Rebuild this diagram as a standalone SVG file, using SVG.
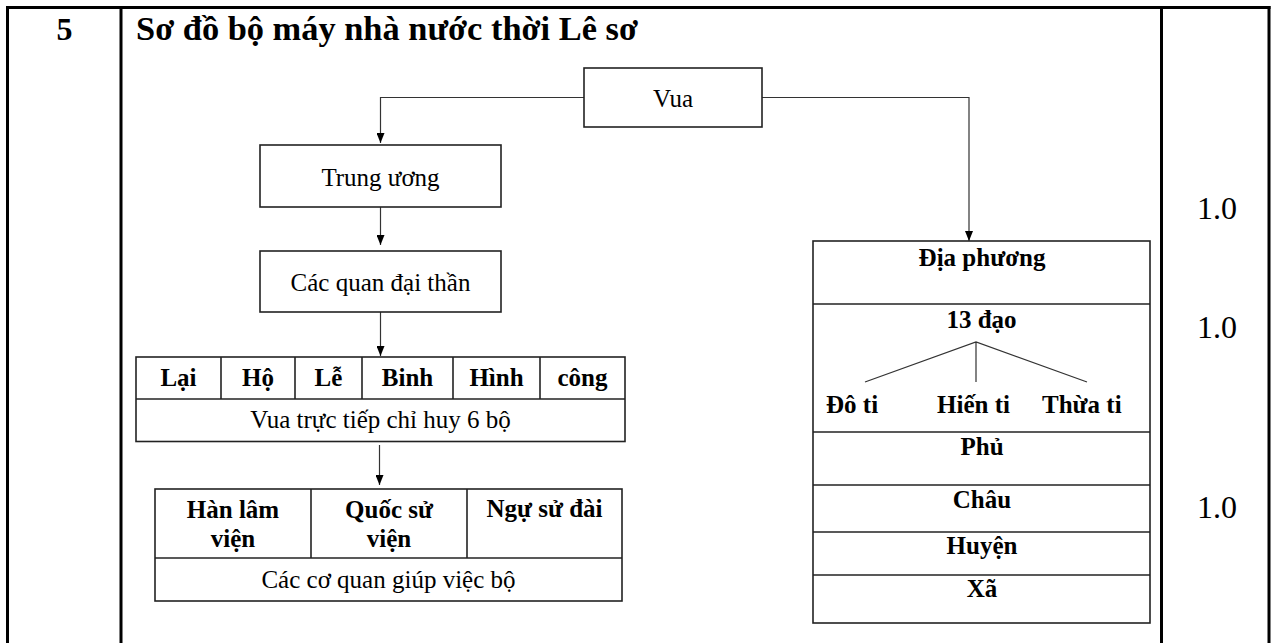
<svg xmlns="http://www.w3.org/2000/svg" width="1274" height="643" viewBox="0 0 1274 643">
<defs>
<style>
.frame{stroke:#000;stroke-width:3;fill:none}
.box{fill:#fff;stroke:#222;stroke-width:1.6}
.ln{stroke:#222;stroke-width:1.6;fill:none}
.conn{stroke:#333;stroke-width:1.2;fill:none}
.t{font-family:"Liberation Serif","Times New Roman","DejaVu Serif",serif;font-size:25px;fill:#000;text-anchor:middle}
.s{text-anchor:start}
.b{font-weight:bold}
.big{font-family:"Liberation Serif","Times New Roman","DejaVu Serif",serif;font-size:32px;fill:#000}
</style>
<marker id="arr" viewBox="0 0 10 8" refX="10" refY="4" markerWidth="10" markerHeight="8" markerUnits="userSpaceOnUse" orient="auto">
<path d="M0,0 L10,4 L0,8 Z" fill="#000"/>
</marker>
</defs>
<rect width="1274" height="643" fill="#fff"/>
<g id="frame">
<line class="frame" x1="6" y1="7.5" x2="1270.5" y2="7.5"/>
<line class="frame" x1="7.5" y1="6" x2="7.5" y2="643"/>
<line class="frame" x1="121" y1="6" x2="121" y2="643"/>
<line class="frame" x1="1161.5" y1="6" x2="1161.5" y2="643"/>
<line class="frame" x1="1269" y1="6" x2="1269" y2="643"/>
<text class="big b" x="64.5" y="40" text-anchor="middle" font-size="33">5</text>
<text class="big b" x="136" y="40" style="font-size:34.4px">Sơ đồ bộ máy nhà nước thời Lê sơ</text>
<text class="big" x="1197" y="219">1.0</text>
<text class="big" x="1197" y="338">1.0</text>
<text class="big" x="1197" y="518">1.0</text>
</g>
<g id="connectors">
<path class="conn" d="M584,97.5 H380.5 V143" marker-end="url(#arr)"/>
<path class="conn" d="M762,97.5 H969 V241" marker-end="url(#arr)"/>
<path class="conn" d="M380.5,207 V245" marker-end="url(#arr)"/>
<path class="conn" d="M380.5,312 V356" marker-end="url(#arr)"/>
<path class="conn" d="M379.5,445 V485" marker-end="url(#arr)"/>
</g>
<g id="vua">
<rect class="box" x="584" y="68" width="178" height="59"/>
<text class="t" x="673" y="107">Vua</text>
</g>
<g id="trung-uong">
<rect class="box" x="260" y="145" width="241" height="62"/>
<text class="t" x="380.5" y="186">Trung ương</text>
</g>
<g id="cac-quan">
<rect class="box" x="260" y="251" width="241" height="61"/>
<text class="t" x="380.5" y="291">Các quan đại thần</text>
</g>
<g id="sau-bo">
<rect class="box" x="136" y="357" width="489" height="84.5"/>
<line class="ln" x1="136" y1="399" x2="625" y2="399"/>
<line class="ln" x1="221" y1="357" x2="221" y2="399"/>
<line class="ln" x1="295" y1="357" x2="295" y2="399"/>
<line class="ln" x1="362" y1="357" x2="362" y2="399"/>
<line class="ln" x1="453" y1="357" x2="453" y2="399"/>
<line class="ln" x1="540" y1="357" x2="540" y2="399"/>
<text class="t b" x="178.5" y="386">Lại</text>
<text class="t b" x="258" y="386">Hộ</text>
<text class="t b" x="328.5" y="386">Lễ</text>
<text class="t b" x="407.5" y="386">Binh</text>
<text class="t b" x="496.5" y="386">Hình</text>
<text class="t b" x="582.5" y="386">công</text>
<text class="t" x="380.5" y="428">Vua trực tiếp chỉ huy 6 bộ</text>
</g>
<g id="co-quan">
<rect class="box" x="155" y="489" width="467" height="112"/>
<line class="ln" x1="155" y1="558" x2="622" y2="558"/>
<line class="ln" x1="311" y1="489" x2="311" y2="558"/>
<line class="ln" x1="467" y1="489" x2="467" y2="558"/>
<text class="t b" x="233" y="518">Hàn lâm</text>
<text class="t b" x="233" y="547">viện</text>
<text class="t b" x="389" y="518">Quốc sử</text>
<text class="t b" x="389" y="547">viện</text>
<text class="t b" x="544.5" y="517">Ngự sử đài</text>
<text class="t" x="388.5" y="588">Các cơ quan giúp việc bộ</text>
</g>
<g id="dia-phuong">
<rect class="box" x="813" y="241" width="337" height="382"/>
<line class="ln" x1="813" y1="304" x2="1150" y2="304"/>
<line class="ln" x1="813" y1="432" x2="1150" y2="432"/>
<line class="ln" x1="813" y1="485" x2="1150" y2="485"/>
<line class="ln" x1="813" y1="532" x2="1150" y2="532"/>
<line class="ln" x1="813" y1="575" x2="1150" y2="575"/>
<text class="t b" x="982" y="266">Địa phương</text>
<text class="t b" x="981.5" y="328">13 đạo</text>
<path class="conn" d="M865,382 L976,342 L1087,382 M976,342 V382"/>
<text class="t b s" x="826" y="413">Đô ti</text>
<text class="t b s" x="937" y="413">Hiến ti</text>
<text class="t b s" x="1042" y="413">Thừa ti</text>
<text class="t b" x="982" y="455">Phủ</text>
<text class="t b" x="982" y="508">Châu</text>
<text class="t b" x="982" y="554">Huyện</text>
<text class="t b" x="982" y="597">Xã</text>
</g>
</svg>
